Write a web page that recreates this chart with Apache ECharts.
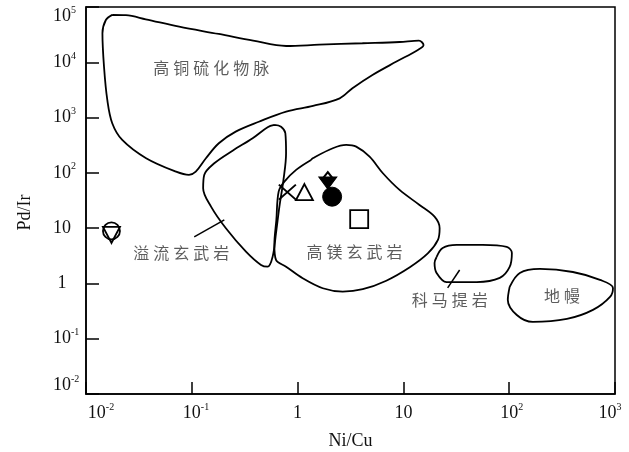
<!DOCTYPE html>
<html>
<head>
<meta charset="utf-8">
<script src="https://cdn.jsdelivr.net/npm/echarts@6/dist/echarts.min.js"></script>
<style>
  html, body { margin: 0; padding: 0; background: #fff; }
  #chart { width: 629px; height: 452px; }
</style>
</head>
<body>
<div id="chart"></div>
<script>
// 高铜硫化物脉
const cuVeinX = [0.0177, 0.0238, 0.0367, 0.076, 0.18, 0.38, 0.78, 1.6, 4.1, 9.2, 14, 15.5, 13.7, 8.6, 5.1, 3.3, 2.5, 1.4, 0.78, 0.43, 0.26, 0.18, 0.136, 0.109, 0.094, 0.071, 0.037, 0.022, 0.0177, 0.0159, 0.0148, 0.0143, 0.0154, 0.0177];
const cuVeinY = [72000, 71000, 60000, 44000, 32500, 24600, 19700, 20800, 22100, 23300, 24600, 20600, 16700, 10300, 5900, 3400, 2230, 1620, 1280, 840, 556, 343, 184, 105, 92, 105, 184, 394, 790, 2080, 8300, 33400, 58200, 72000];

// 溢流玄武岩
const floodX = [0.603, 0.698, 0.766, 0.778, 0.735, 0.673, 0.625, 0.581, 0.521, 0.451, 0.325, 0.21, 0.152, 0.128, 0.131, 0.163, 0.243, 0.376, 0.521, 0.603];
const floodY = [735, 684, 520, 226, 74.5, 24.5, 8.1, 3.05, 2.01, 2.16, 3.76, 9.95, 24.5, 52.7, 91.6, 149, 252, 423, 668, 735];

// 高镁玄武岩
const highMgX = [1.34, 0.968, 0.75, 0.662, 0.63, 0.603, 0.625, 0.778, 1.117, 1.73, 2.67, 4.13, 6.89, 11.5, 17.1, 21.2, 22, 19.7, 14.2, 9.2, 6.4, 4.79, 3.58, 2.88, 2.15, 1.39, 1.34];
const highMgY = [171, 113, 69.3, 45.7, 14.1, 4.97, 2.66, 2.01, 1.24, 0.818, 0.711, 0.785, 1.12, 1.96, 3.52, 6.12, 9.95, 16.1, 26.3, 49.1, 98.4, 196, 298, 320, 279, 184, 171];

// 科马提岩
const komatiiteX = [20.6, 23.5, 31.9, 56.2, 94.8, 106, 101, 81.5, 49.3, 25.6, 20.6, 19.7, 20.6];
const komatiiteY = [3.01, 4.38, 4.97, 4.97, 4.57, 3.56, 1.99, 1.26, 1.06, 1.06, 1.55, 2.35, 3.01];

// 地幔
const mantleX = [101, 126, 195, 400, 721, 957, 897, 619, 351, 167, 118, 97, 101];
const mantleY = [0.865, 1.55, 1.83, 1.61, 1.16, 0.83, 0.57, 0.332, 0.228, 0.201, 0.269, 0.503, 0.865];

// 引线
const floodLeaderX = [0.1054, 0.203];
const floodLeaderY = [6.93, 14.1];
const komLeaderX = [26.2, 34.0];
const komLeaderY = [0.83, 1.75];

// 区域名称
const fieldNames = ['高铜硫化物脉', '溢流玄武岩', '高镁玄武岩', '科马提岩', '地幔'];
const fieldX = [0.153, 0.0794, 3.45, 27.4, 315];
const fieldY = [7890, 3.56, 3.71, 0.503, 0.594];

// 样品点
const crossPt = [0.80, 45];
const triUpPt = [1.16, 45];
const smallTriPt = [1.93, 89];
const filledTriPt = [1.93, 65.6];
const dotPt = [2.12, 37.1];
const squarePt = [3.82, 14.5];
const ringPt = [0.0174, 8.9];
const ringTriPt = [0.0174, 7.53];

const pts = (xs, ys) => xs.map((x, i) => [x, ys[i]]);

const serif = 'Liberation Serif';

function powLabel(v, first, last) {
  const e = Math.round(Math.log10(v));
  if (e === 0) return '{b|1}';
  if (e === 1) return '{b|10}';
  if (first) return '{bl|10}{s|' + e + '}';
  if (last) return '{b|10}{sr|' + e + '}';
  return '{h|' + e + '}{b|10}{s|' + e + '}';
}

// y轴两端的标签向内收一点
function yLabel(v) {
  const txt = powLabel(v, false, false);
  if (v >= 99999) return '{gap| }\n' + txt;
  if (v <= 0.011) return txt + '\n{gap| }';
  return txt;
}

const labelRich = {
  b: { fontFamily: serif, fontSize: 18, color: '#111', lineHeight: 22 },
  bl: { fontFamily: serif, fontSize: 18, color: '#111', lineHeight: 22, padding: [0, 0, 0, 30] },
  s: { fontFamily: serif, fontSize: 10, color: '#111', verticalAlign: 'top', lineHeight: 12 },
  sr: { fontFamily: serif, fontSize: 10, color: '#111', verticalAlign: 'top', lineHeight: 12, padding: [0, 10, 0, 0] },
  h: { fontFamily: serif, fontSize: 10, color: 'transparent', verticalAlign: 'top', lineHeight: 12 },
  gap: { fontSize: 1, lineHeight: 18, color: 'transparent' }
};

function outline(xs, ys) {
  return {
    type: 'line',
    data: pts(xs, ys),
    smooth: 0.35,
    symbol: 'none',
    silent: true,
    z: 2,
    lineStyle: { color: '#000', width: 1.8 }
  };
}

function leader(xs, ys) {
  return {
    type: 'line',
    data: pts(xs, ys),
    symbol: 'none',
    silent: true,
    z: 2,
    lineStyle: { color: '#000', width: 1.5 }
  };
}

function marker(pt, symbol, size, style, rotate) {
  return {
    type: 'scatter',
    data: [pt],
    symbol: symbol,
    symbolSize: size,
    symbolRotate: rotate || 0,
    silent: true,
    z: 5,
    itemStyle: Object.assign({ opacity: 1 }, style)
  };
}

const openStyle = { color: '#fff', borderColor: '#000', borderWidth: 1.8 };
const hollowStyle = { color: 'none', borderColor: '#000', borderWidth: 1.8 };
const solidStyle = { color: '#000', borderColor: '#000', borderWidth: 1 };

const chart = echarts.init(document.getElementById('chart'));
chart.setOption({
  animation: false,
  backgroundColor: '#fff',
  textStyle: { fontFamily: serif },
  grid: {
    left: 86, right: 14, top: 7, bottom: 58,
    containLabel: false,
    outerBoundsMode: 'none',
    show: true, borderColor: '#000', borderWidth: 1.5
  },
  xAxis: {
    type: 'log',
    logBase: 10,
    min: 0.01,
    max: 1000,
    splitNumber: 5,
    name: 'Ni/Cu',
    nameLocation: 'middle',
    nameGap: 38,
    nameTextStyle: { fontFamily: serif, fontSize: 18, color: '#111' },
    axisLine: { lineStyle: { color: '#000', width: 1.5 } },
    axisTick: { inside: true, length: 12, lineStyle: { color: '#000', width: 1.5 } },
    minorTick: { show: false },
    splitLine: { show: false },
    axisLabel: {
      margin: 8,
      showMinLabel: true,
      showMaxLabel: true,
      formatter: v => powLabel(v, v <= 0.011, v >= 999),
      rich: labelRich
    }
  },
  yAxis: {
    type: 'log',
    logBase: 10,
    min: 0.01,
    max: 100000,
    splitNumber: 7,
    name: 'Pd/Ir',
    nameLocation: 'middle',
    nameGap: 52,
    nameRotate: 90,
    nameTextStyle: { fontFamily: serif, fontSize: 18, color: '#111', padding: [0, 24, 0, 0] },
    axisLine: { lineStyle: { color: '#000', width: 1.5 } },
    axisTick: { inside: true, length: 13, lineStyle: { color: '#000', width: 1.5 } },
    minorTick: { show: false },
    splitLine: { show: false },
    axisLabel: {
      margin: 24,
      align: 'center',
      showMinLabel: true,
      showMaxLabel: true,
      formatter: yLabel,
      rich: labelRich
    }
  },
  series: [
    outline(cuVeinX, cuVeinY),
    outline(floodX, floodY),
    outline(highMgX, highMgY),
    outline(komatiiteX, komatiiteY),
    outline(mantleX, mantleY),
    leader(floodLeaderX, floodLeaderY),
    leader(komLeaderX, komLeaderY),
    {
      type: 'scatter',
      silent: true,
      z: 3,
      symbolSize: 1,
      itemStyle: { color: 'transparent' },
      data: fieldNames.map((n, i) => ({ name: n, value: [fieldX[i], fieldY[i]] })),
      label: {
        show: true,
        position: 'inside',
        formatter: p => p.name.split('').map(c => '{c|' + c + '}').join(''),
        rich: {
          c: { fontFamily: 'Noto Sans CJK SC', fontSize: 16, color: '#333', padding: [0, 2, 0, 2] }
        }
      }
    },
    marker(crossPt, 'path://M0,0L20,20M20,0L0,20', [17, 15], hollowStyle),
    marker(triUpPt, 'triangle', [17, 16], openStyle),
    marker(smallTriPt, 'triangle', [11, 7], openStyle),
    marker(filledTriPt, 'triangle', [18, 12], solidStyle, 180),
    marker(dotPt, 'circle', 19, solidStyle),
    marker(squarePt, 'rect', 18, openStyle),
    marker(ringPt, 'circle', 17, openStyle),
    marker(ringTriPt, 'triangle', [17, 16], hollowStyle, 180)
  ]
});
</script>
</body>
</html>
